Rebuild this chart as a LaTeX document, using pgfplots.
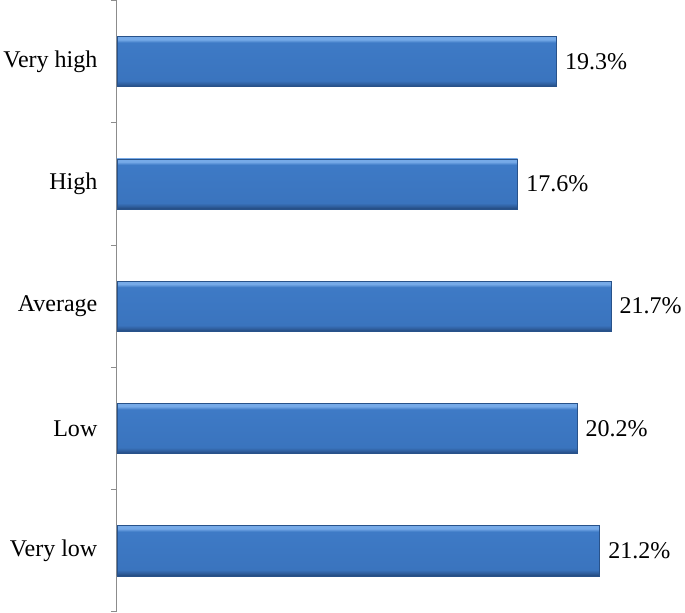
\documentclass[border=0pt]{standalone}
\usepackage{fontspec}
\setmainfont{Liberation Serif}
\usepackage{pgfplots}
\pgfplotsset{compat=1.18}
\definecolor{bdark}{RGB}{34,72,124}
\definecolor{bdark2}{RGB}{48,96,160}
\definecolor{bmain}{RGB}{62,122,198}
\definecolor{bmain2}{RGB}{58,116,190}
\definecolor{blight}{RGB}{118,170,232}
\definecolor{bedge}{RGB}{40,82,138}
\definecolor{axgray}{RGB}{140,140,140}
\pgfdeclareverticalshading{barshade}{100bp}{color(0bp)=(bdark); color(25bp)=(bdark); color(28bp)=(bdark2); color(31bp)=(bmain2); color(69bp)=(bmain); color(72bp)=(blight); color(75bp)=(blight); color(100bp)=(blight)}
\pgfplotsset{mybar/.style={draw=bedge, line width=0.6pt, shading=barshade}}
\begin{document}
\begin{tikzpicture}
\begin{axis}[
  scale only axis,
  width=567bp, height=609bp,
  xmin=0, xmax=25,
  ymin=-0.5, ymax=4.5,
  axis x line=none,
  axis y line*=left,
  y axis line style={draw=axgray, line width=1pt, -},
  ytick={0,1,2,3,4},
  yticklabels={Very low,Low,Average,High,Very high},
  minor ytick={-0.5,0.5,1.5,2.5,3.5,4.5},
  major tick length=0pt,
  minor tick length=6bp,
  tick align=outside,
  minor tick style={draw=axgray, line width=1pt},
  yticklabel style={font=\fontsize{24}{28}\selectfont, xshift=-16bp},
  clip=false,
  xbar, bar width=50bp, bar shift=0pt,
  point meta=explicit symbolic,
  nodes near coords={\pgfplotspointmeta\%},
  nodes near coords style={font=\fontsize{24}{28}\selectfont, text=black, anchor=west, xshift=5bp},
]
\addplot[mybar] coordinates {(21.2,0) [21.2]};
\addplot[mybar] coordinates {(20.2,1) [20.2]};
\addplot[mybar] coordinates {(21.7,2) [21.7]};
\addplot[mybar] coordinates {(17.6,3) [17.6]};
\addplot[mybar] coordinates {(19.3,4) [19.3]};
\end{axis}
\end{tikzpicture}
\end{document}
